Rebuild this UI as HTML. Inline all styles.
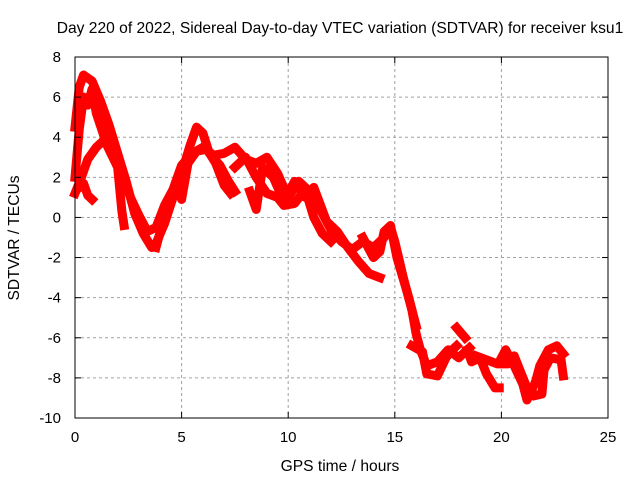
<!DOCTYPE html>
<html><head><meta charset="utf-8"><style>
body{margin:0;background:#fff}
svg{display:block;font-family:"Liberation Sans",sans-serif}
</style></head><body>
<svg id="chart" width="640" height="480" viewBox="0 0 640 480">
<rect width="640" height="480" fill="#fff"/>
<text x="340" y="33" font-size="15.6" text-anchor="middle">Day 220 of 2022, Sidereal Day-to-day VTEC variation (SDTVAR) for receiver ksu1</text>
<text x="340" y="471" font-size="15.6" text-anchor="middle">GPS time / hours</text>
<text transform="translate(19,238) rotate(-90)" font-size="15.6" text-anchor="middle">SDTVAR / TECUs</text>
<g id="grid"></g>
<g id="series"></g>
<rect x="75" y="57" width="533" height="361" fill="none" stroke="#000" stroke-width="1"/>
<g id="ticks"></g>
</svg>
<script>
const xTicks=[0,5,10,15,20,25];
const yTicks=[8,6,4,2,0,-2,-4,-6,-8,-10];
const track1=[[0,4.5],[0.2,6.5],[0.4,7.1],[0.8,6.8],[1.2,5.8],[1.6,4.6],[2.0,3.2],[2.4,1.8],[2.8,0.2],[3.2,-0.8],[3.6,-1.5],[3.8,-1.3],[4.2,-0.3],[4.6,1.0],[5.0,2.2],[5.4,3.6],[5.7,4.5],[6.0,4.2],[6.3,3.2],[6.8,2.6],[7.2,1.8],[7.5,1.3]];
const track2=[[0,1.2],[0.3,2.0],[0.6,2.9],[1.0,3.5],[1.4,3.9],[1.8,3.4],[2.2,2.2],[2.6,1.0],[3.0,0.1],[3.4,-0.7],[3.8,-0.5],[4.2,0.6],[4.6,1.4],[5.0,2.6],[5.5,3.2],[6.0,3.5],[6.5,3.1],[7.0,3.2],[7.5,3.5],[8.0,2.9],[8.5,2.7],[9.0,3.0],[9.5,2.2],[10,1.0],[10.5,1.8],[11,1.3],[11.5,0.4],[12,-0.6],[12.5,-1.2],[13,-1.6],[13.5,-1.2],[14,-1.5],[14.5,-1.0],[14.8,-0.5],[15,-1.2],[15.4,-3],[15.8,-4.6],[16.0,-5.8],[16.2,-6.6],[16.5,-7.4],[17,-7.2],[17.5,-6.6],[18,-7.0],[18.5,-6.5]];
const track3=[[0,2.0],[0.2,4.4],[0.4,6.0],[0.6,5.6],[0.8,6.4],[1.0,5.2],[1.5,3.6],[2.0,2.5],[2.2,0.3],[2.3,-0.4]];
const track4=[[0.2,1.5],[0.4,1.7],[0.6,1.1],[0.8,0.9]];
const track5=[[3.8,-1.5],[4.0,-0.7],[4.3,0.8],[4.8,1.5],[5.0,0.9],[5.3,2.7],[5.7,3.3],[6.2,3.4],[6.6,2.7],[7.0,1.6],[7.3,1.2]];
const track6=[[7.5,2.5],[8.0,3.0],[8.5,2.0],[9.0,1.2],[9.5,1.0],[9.8,0.6],[10.3,0.7],[10.8,1.4],[11.2,0.0],[11.6,-0.8],[12,-1.2]];
const track7=[[8.2,1.3],[8.5,0.4],[8.8,2.5],[9.3,2.0],[9.8,0.8],[10.3,1.8],[10.8,1.0],[11.2,1.5],[11.8,-0.2],[12.3,-0.7],[12.8,-1.5],[13.3,-2.2],[13.8,-2.8],[14.3,-3.0]];
const track8=[[13.5,-1.0],[14.0,-2.0],[14.3,-1.7],[14.5,-0.7],[14.8,-0.4],[15.1,-2.0],[15.6,-3.8],[16.0,-5.4]];
const track9=[[15.8,-6.4],[16.3,-6.7],[16.5,-7.8],[17,-7.9],[17.4,-7.0],[17.6,-6.7],[17.9,-6.4]];
const track10=[[18.4,-6.6],[18.6,-7.2],[19,-7.0],[19.3,-7.8],[19.7,-8.5],[19.9,-8.5]];
const track11=[[18.8,-6.9],[19.3,-7.1],[19.8,-7.3],[20.3,-7.3],[20.6,-6.9],[20.9,-7.7],[21.2,-8.5],[21.5,-8.9],[21.9,-8.8],[22,-7.6],[22.3,-7.0],[22.8,-7.1],[22.9,-7.9]];
const track12=[[19.9,-7.2],[20.2,-6.6],[20.6,-7.4],[21,-8.3],[21.2,-9.1],[21.6,-8.2],[21.8,-7.4],[22.2,-6.6],[22.6,-6.4],[22.9,-6.8]];
const track13=[[17.9,-5.5],[18.3,-6.0]];
const tracks=[track1,track2,track3,track4,track5,track6,track7,track8,track9,track10,track11,track12,track13];

const NS="http://www.w3.org/2000/svg";
const X0=75,X1=608,Y0=418,Y1=57;
const xs=v=>X0+(v-0)/(25-0)*(X1-X0);
const ys=v=>Y0-(v+10)/(8+10)*(Y0-Y1);
const grid=document.getElementById('grid'),ticks=document.getElementById('ticks'),ser=document.getElementById('series');
function mk(t,a){const e=document.createElementNS(NS,t);for(const k in a)e.setAttribute(k,a[k]);return e;}
xTicks.forEach(t=>{
  const x=xs(t);
  if(t>0&&t<25){const g=mk('line',{x1:x,x2:x,y1:Y1,y2:Y0,stroke:'#a0a0a0','stroke-dasharray':'3,3'});
  
  grid.appendChild(g);}
  const a=mk('line',{x1:x,x2:x,y1:Y0,y2:Y0-6,stroke:'#000'});
  
  ticks.appendChild(a);
  const b=mk('line',{x1:x,x2:x,y1:Y1,y2:Y1+6,stroke:'#000'});
  
  ticks.appendChild(b);
  const l=mk('text',{x:x,y:Y0+24,'font-size':15,'text-anchor':'middle'});l.textContent=t;
  
  ticks.appendChild(l);
});
yTicks.forEach(t=>{
  const y=ys(t);
  if(t>-10&&t<8){const g=mk('line',{x1:X0,x2:X1,y1:y,y2:y,stroke:'#a0a0a0','stroke-dasharray':'3,3'});
  
  grid.appendChild(g);}
  const a=mk('line',{x1:X0,x2:X0+6,y1:y,y2:y,stroke:'#000'});
  
  ticks.appendChild(a);
  const b=mk('line',{x1:X1,x2:X1-6,y1:y,y2:y,stroke:'#000'});
  
  ticks.appendChild(b);
  const l=mk('text',{x:X0-14,y:y+5,'font-size':15,'text-anchor':'end'});l.textContent=t;
  
  ticks.appendChild(l);
});
tracks.forEach(tr=>{
  const p=mk('polyline',{points:tr.map(d=>xs(d[0])+','+ys(d[1])).join(' '),fill:'none',stroke:'#ff0000','stroke-width':9,'stroke-linejoin':'round','stroke-linecap':'square'});
  
  
  ser.appendChild(p);
});
</script>
</body></html>
